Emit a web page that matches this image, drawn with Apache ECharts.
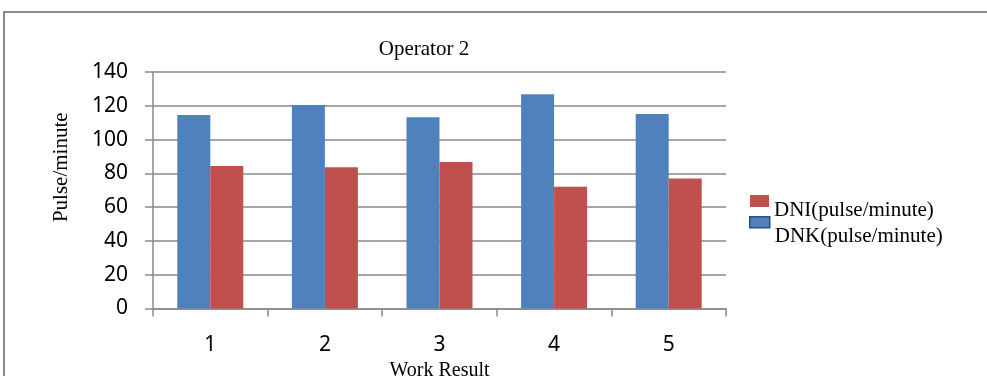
<!DOCTYPE html>
<html>
<head>
<meta charset="utf-8">
<script src="https://cdn.jsdelivr.net/npm/echarts@6/dist/echarts.min.js"></script>
<style>
  html, body { margin: 0; padding: 0; background: #ffffff; }
  #chart { width: 987px; height: 376px; }
</style>
</head>
<body>
<div id="chart"></div>
<script>
// Work results for operator 2
const categories = ['1', '2', '3', '4', '5'];
const dnkValues = [114.6, 120.4, 113.2, 126.8, 115.2];
const dniValues = [84.4, 83.6, 86.7, 72.1, 76.9];
const yTicks = [0, 20, 40, 60, 80, 100, 120, 140];

const SERIF = '"Liberation Serif", "Times New Roman", serif';
const SANS = '"Noto Sans", "Open Sans", sans-serif';
const GRID_GRAY = '#8a8a8a';

// legend swatch sits at the top of a taller item box so the label hangs below it
const dniIcon = 'path://M0,30 M0,0 H19 V12 H0 Z';
const dnkIcon = 'path://M0,40 M0,0 H20 V11 H0 Z';

const chart = echarts.init(document.getElementById('chart'), null, { renderer: 'canvas' });

chart.setOption({
  animation: false,
  backgroundColor: '#ffffff',
  title: {
    text: 'Operator 2',
    left: 419,
    top: 34,
    textAlign: 'center',
    textStyle: { fontFamily: SERIF, fontSize: 21, fontWeight: 'normal', color: '#000' }
  },
  graphic: [{
    type: 'rect',
    shape: { x: 4, y: 12, width: 1000, height: 420 },
    style: { fill: 'none', stroke: GRID_GRAY, lineWidth: 2 },
    silent: true,
    z: -1
  }],
  legend: [{
    data: [{ name: 'DNI(pulse/minute)', icon: dniIcon }],
    left: 750,
    top: 195,
    padding: 0,
    itemWidth: 19,
    itemHeight: 30,
    textStyle: { fontFamily: SERIF, fontSize: 21, color: '#000' }
  }, {
    data: [{ name: 'DNK(pulse/minute)', icon: dnkIcon, itemStyle: { borderColor: '#2c4d7e', borderWidth: 1.5 } }],
    left: 749,
    top: 216,
    padding: 0,
    itemWidth: 20,
    itemHeight: 40,
    textStyle: { fontFamily: SERIF, fontSize: 21, color: '#000' }
  }],
  grid: { left: 153, top: 72, right: 261, bottom: 67.5, containLabel: false, outerBoundsMode: 'none' },
  xAxis: {
    type: 'category',
    data: categories,
    name: 'Work Result',
    nameLocation: 'middle',
    nameGap: 45,
    nameTextStyle: { fontFamily: SERIF, fontSize: 20, color: '#000' },
    axisLine: { lineStyle: { color: GRID_GRAY, width: 1.5 } },
    axisTick: { show: true, length: 8, lineStyle: { color: GRID_GRAY, width: 1.5 } },
    axisLabel: { fontFamily: SANS, fontSize: 21, color: '#000', margin: 26 },
    splitLine: { show: false }
  },
  yAxis: {
    type: 'value',
    min: yTicks[0],
    max: yTicks[yTicks.length - 1],
    interval: yTicks[1] - yTicks[0],
    name: 'Pulse/minute',
    nameLocation: 'middle',
    nameGap: 81,
    nameRotate: 90,
    nameTextStyle: { fontFamily: SERIF, fontSize: 21, color: '#000', padding: [0, 0, 0, 46] },
    axisLine: { show: true, lineStyle: { color: GRID_GRAY, width: 1.5 } },
    axisTick: { show: true, length: 8, lineStyle: { color: GRID_GRAY, width: 1.5 } },
    axisLabel: { fontFamily: SANS, fontSize: 21, color: '#000', margin: 25 },
    splitLine: { show: true, lineStyle: { color: GRID_GRAY, width: 1.5 } }
  },
  series: [{
    name: 'DNK(pulse/minute)',
    type: 'bar',
    data: dnkValues,
    barWidth: 33,
    barGap: '0%',
    itemStyle: { color: '#4f81bd' }
  }, {
    name: 'DNI(pulse/minute)',
    type: 'bar',
    data: dniValues,
    barWidth: 33,
    barGap: '0%',
    itemStyle: { color: '#c0504d' }
  }]
});
</script>
</body>
</html>
